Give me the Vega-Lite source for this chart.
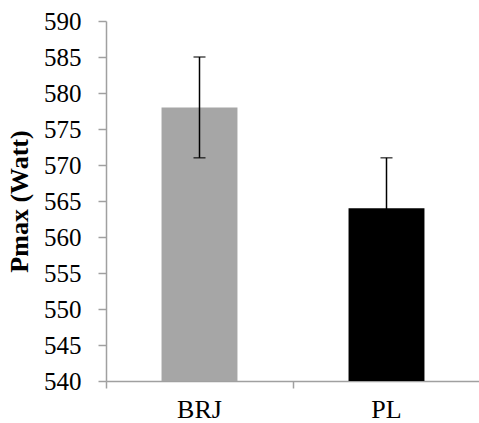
{
  "$schema": "https://vega.github.io/schema/vega-lite/v6.json",
  "autosize": "none",
  "width": 374,
  "height": 360,
  "padding": {"left": 106, "top": 21, "right": 0, "bottom": 42},
  "background": "white",
  "config": {
    "view": {"stroke": null},
    "font": "Liberation Serif",
    "axisY": {
      "labelOverlap": false,
      "labelFont": "Liberation Serif",
      "labelFontSize": 25,
      "labelColor": "black",
      "labelPadding": 17,
      "grid": false,
      "domainColor": "#a0a0a0",
      "domainWidth": 1.5,
      "tickColor": "#a0a0a0",
      "tickWidth": 1.5,
      "tickSize": 8,
      "titleFont": "Liberation Serif",
      "titleFontSize": 26,
      "titleFontWeight": "bold",
      "titleColor": "black",
      "titlePadding": 11
    }
  },
  "data": {
    "values": [
      {"group": "BRJ", "mean": 578, "lo": 571, "hi": 585},
      {"group": "PL", "mean": 564, "lo": 557, "hi": 571}
    ]
  },
  "encoding": {
    "x": {
      "field": "group",
      "type": "nominal",
      "sort": null,
      "scale": {"paddingInner": 0.594, "paddingOuter": 0.297},
      "axis": {
        "title": null,
        "labelAngle": 0,
        "labelFont": "Liberation Serif",
        "labelFontSize": 26,
        "labelColor": "black",
        "labelPadding": 8,
        "labelOverlap": false,
        "labelBound": false,
        "labelFlush": false,
        "domainColor": "#a0a0a0",
        "domainWidth": 1.5,
        "tickColor": "#a0a0a0",
        "tickWidth": 1.5,
        "tickSize": 7,
        "bandPosition": -0.731
      }
    }
  },
  "layer": [
    {
      "mark": {"type": "bar"},
      "encoding": {
        "y": {
          "field": "mean",
          "type": "quantitative",
          "scale": {"domain": [540, 590], "nice": false, "zero": false},
          "axis": {
            "title": "Pmax (Watt)",
            "values": [540, 545, 550, 555, 560, 565, 570, 575, 580, 585, 590]
          }
        },
        "y2": {"datum": 540},
        "color": {
          "field": "group",
          "type": "nominal",
          "scale": {"domain": ["BRJ", "PL"], "range": ["#a6a6a6", "#000000"]},
          "legend": null
        }
      }
    },
    {
      "mark": {"type": "rule", "color": "black", "strokeWidth": 1.5},
      "encoding": {
        "y": {"field": "lo", "type": "quantitative", "axis": {"title": "Pmax (Watt)", "values": [540, 545, 550, 555, 560, 565, 570, 575, 580, 585, 590]}},
        "y2": {"field": "hi"}
      }
    },
    {
      "mark": {"type": "tick", "color": "black", "thickness": 1.5, "size": 12},
      "encoding": {
        "y": {"field": "hi", "type": "quantitative", "axis": {"title": "Pmax (Watt)", "values": [540, 545, 550, 555, 560, 565, 570, 575, 580, 585, 590]}}
      }
    },
    {
      "mark": {"type": "tick", "color": "black", "thickness": 1.5, "size": 12},
      "encoding": {
        "y": {"field": "lo", "type": "quantitative", "axis": {"title": "Pmax (Watt)", "values": [540, 545, 550, 555, 560, 565, 570, 575, 580, 585, 590]}}
      }
    }
  ]
}
